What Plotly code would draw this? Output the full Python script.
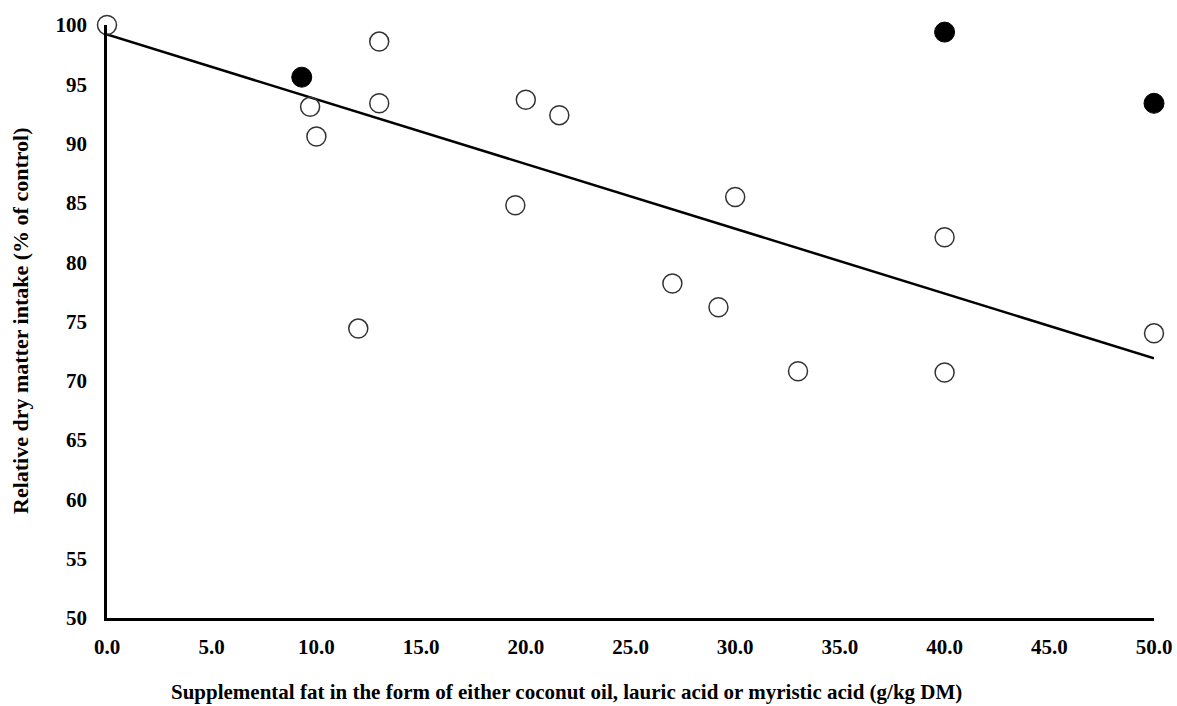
import plotly.graph_objects as go

# Open circles (coconut oil / lauric acid)
open_x = [0.0, 9.7, 10.0, 12.0, 13.0, 13.0, 19.5, 20.0, 21.6, 27.0, 29.2, 30.0, 33.0, 40.0, 40.0, 50.0]
open_y = [100.0, 93.1, 90.6, 74.4, 98.6, 93.4, 84.8, 93.7, 92.4, 78.2, 76.2, 85.5, 70.8, 82.1, 70.7, 74.0]

# Filled circles (myristic acid)
filled_x = [9.3, 40.0, 50.0]
filled_y = [95.6, 99.4, 93.4]

# Regression line
line_x = [0.0, 50.0]
line_y = [99.2, 71.9]

x_ticks = [0, 5, 10, 15, 20, 25, 30, 35, 40, 45, 50]
y_ticks = [50, 55, 60, 65, 70, 75, 80, 85, 90, 95, 100]

x_title = "Supplemental fat in the form of either coconut oil, lauric acid or myristic acid (g/kg DM)"
y_title = "Relative dry matter intake (% of control)"

FONT = "Liberation Serif"

fig = go.Figure()
fig.add_trace(go.Scatter(x=line_x, y=line_y, mode="lines",
                         line=dict(color="black", width=2.5),
                         showlegend=False, cliponaxis=False))
fig.add_trace(go.Scatter(x=open_x, y=open_y, mode="markers",
                         marker=dict(symbol="circle-open", size=19, color="#333333",
                                     line=dict(color="#333333", width=1.5)),
                         showlegend=False, cliponaxis=False))
fig.add_trace(go.Scatter(x=filled_x, y=filled_y, mode="markers",
                         marker=dict(symbol="circle", size=20, color="black",
                                     line=dict(color="black", width=1)),
                         showlegend=False, cliponaxis=False))

tick_font = dict(family=FONT, size=21, color="black", weight="bold")

fig.update_layout(
    width=1177, height=706,
    margin=dict(l=107, r=23, t=25, b=88),
    plot_bgcolor="white", paper_bgcolor="white",
    font=dict(family=FONT, size=21, color="black"),
    xaxis=dict(range=[0, 50], tickvals=x_ticks,
               ticktext=[f"{v:.1f}" for v in x_ticks],
               showgrid=False, zeroline=False, showline=True,
               linecolor="black", linewidth=2.5, ticks="",
               automargin=False, ticklabeloverflow="allow",
               ticklabelstandoff=8, tickfont=tick_font),
    yaxis=dict(range=[50, 100], tickvals=y_ticks,
               showgrid=False, zeroline=False, showline=True,
               linecolor="black", linewidth=2.5, ticks="",
               automargin=False, ticklabeloverflow="allow",
               ticklabelstandoff=13, tickfont=tick_font),
    annotations=[
        dict(text=f"<b>{x_title}</b>", xref="paper", yref="paper",
             x=0.4384, y=-0.1248, xanchor="center", yanchor="middle",
             showarrow=False, font=dict(family=FONT, size=21, color="black")),
        dict(text=f"<b>{y_title}</b>", xref="paper", yref="paper",
             x=-0.0831, y=0.5025, xanchor="center", yanchor="middle",
             textangle=-90, showarrow=False,
             font=dict(family=FONT, size=22, color="black")),
    ],
)

fig.write_html(
    "out.html",
    config={"displayModeBar": False},
    post_script="document.body.style.margin='0';document.body.style.overflow='hidden';",
)
